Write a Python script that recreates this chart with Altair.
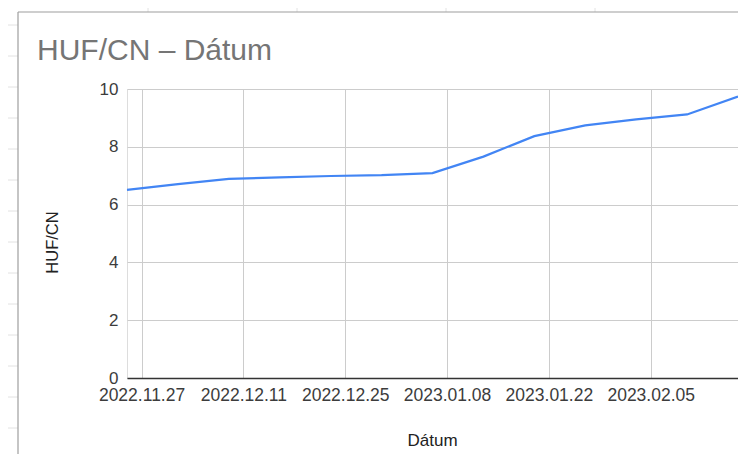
import altair as alt
import pandas as pd

# ---- chart data ----
dates = ["2022-11-25", "2022-12-02", "2022-12-09", "2022-12-16", "2022-12-23",
         "2022-12-30", "2023-01-06", "2023-01-13", "2023-01-20", "2023-01-27",
         "2023-02-03", "2023-02-10", "2023-02-17"]
rates = [6.51, 6.71, 6.89, 6.94, 6.99, 7.02, 7.09, 7.66, 8.37, 8.74, 8.95, 9.12, 9.74]
x_tick_dates = ["2022-11-27", "2022-12-11", "2022-12-25", "2023-01-08", "2023-01-22", "2023-02-05"]
y_ticks = [0, 2, 4, 6, 8, 10]
domain_dates = ["2022-11-25", "2023-02-17"]
title_text = "HUF/CN – Dátum"

# ---- decoration: spreadsheet cells behind the chart (pixel offsets from plot origin) ----
sheet_col_x = [21, 170, 319, 468]
sheet_row_y = [-64, -33, -2, 29, 60, 91, 122, 153, 184, 215, 246, 277, 308, 339, 370]
frame_left, frame_top = -109, -77
title_pos = (-90, -29)

FONT = "Liberation Sans"


def dt(s):
    y, m, d = (int(p) for p in s.split("-"))
    return alt.DateTime(year=y, month=m, date=d, utc=True)


df = pd.DataFrame({"date": dates, "rate": rates})

x_enc = alt.X(
    "date:T",
    title="Dátum",
    scale=alt.Scale(type="utc", domain=[dt(d) for d in domain_dates], nice=False),
    axis=alt.Axis(
        values=[dt(d) for d in x_tick_dates],
        labelExpr="utcFormat(datum.value, '%Y.%m.%d')",
        labelFont=FONT, labelFontSize=17.5, labelColor="#3c3c3c",
        labelBaseline="alphabetic", labelPadding=22, labelAngle=0,
        labelOverlap=False, labelFlush=False,
        ticks=False, grid=True, gridColor="#cccccc", gridWidth=1,
        domain=True, domainColor="#333333", domainWidth=1.6,
        titleFont=FONT, titleFontSize=17, titleFontWeight="normal", titleColor="#222222",
        titleBaseline="alphabetic", titleY=67, titleX=305,
    ),
)

y_enc = alt.Y(
    "rate:Q",
    title="HUF/CN",
    scale=alt.Scale(domain=[0, 10], nice=False, zero=True),
    axis=alt.Axis(
        values=y_ticks,
        labelFont=FONT, labelFontSize=17, labelColor="#3c3c3c", labelPadding=9,
        ticks=False, domain=False, grid=True, gridColor="#cccccc", gridWidth=1,
        titleFont=FONT, titleFontSize=16.5, titleFontWeight="normal", titleColor="#222222",
        titleAngle=-90, titleX=-75, titleY=153, titleAlign="center", titleBaseline="middle",
    ),
)

line = alt.Chart(df).mark_line(color="#4285F4", strokeWidth=2.2).encode(x=x_enc, y=y_enc)

# spreadsheet decoration layers
cols_df = pd.DataFrame({"x": sheet_col_x, "y": [-81] * len(sheet_col_x), "y2": [frame_top] * len(sheet_col_x)})
rows_df = pd.DataFrame({"y": sheet_row_y, "x": [-119] * len(sheet_row_y), "x2": [frame_left] * len(sheet_row_y)})
frame_v = pd.DataFrame({"x": [frame_left], "y": [frame_top], "y2": [400]})
frame_h = pd.DataFrame({"y": [frame_top], "x": [frame_left], "x2": [640]})
title_df = pd.DataFrame({"x": [title_pos[0]], "y": [title_pos[1]], "t": [title_text]})

cols = alt.Chart(cols_df).mark_rule(color="#e2e2e2", strokeWidth=1).encode(
    x=alt.X("x:Q", scale=None), y=alt.Y("y:Q", scale=None), y2="y2:Q")
rows = alt.Chart(rows_df).mark_rule(color="#e2e2e2", strokeWidth=1).encode(
    y=alt.Y("y:Q", scale=None), x=alt.X("x:Q", scale=None), x2="x2:Q")
fv = alt.Chart(frame_v).mark_rule(color="#9e9e9e", strokeWidth=1.2).encode(
    x=alt.X("x:Q", scale=None), y=alt.Y("y:Q", scale=None), y2="y2:Q")
fh = alt.Chart(frame_h).mark_rule(color="#9e9e9e", strokeWidth=1.2).encode(
    y=alt.Y("y:Q", scale=None), x=alt.X("x:Q", scale=None), x2="x2:Q")
title = alt.Chart(title_df).mark_text(
    font=FONT, fontSize=30, color="#757575", align="left", baseline="alphabetic"
).encode(x=alt.X("x:Q", scale=None), y=alt.Y("y:Q", scale=None), text="t:N")

chart = alt.layer(line, cols, rows, fv, fh, title).resolve_scale(x="independent", y="independent").properties(
    width=611,
    height=289,
    autosize=alt.AutoSizeParams(type="none"),
    padding={"left": 119, "top": 81, "right": 0, "bottom": 76},
).configure_view(stroke=None).configure(background="white")

chart.save("out.html", embed_options={"renderer": "svg", "actions": False})
